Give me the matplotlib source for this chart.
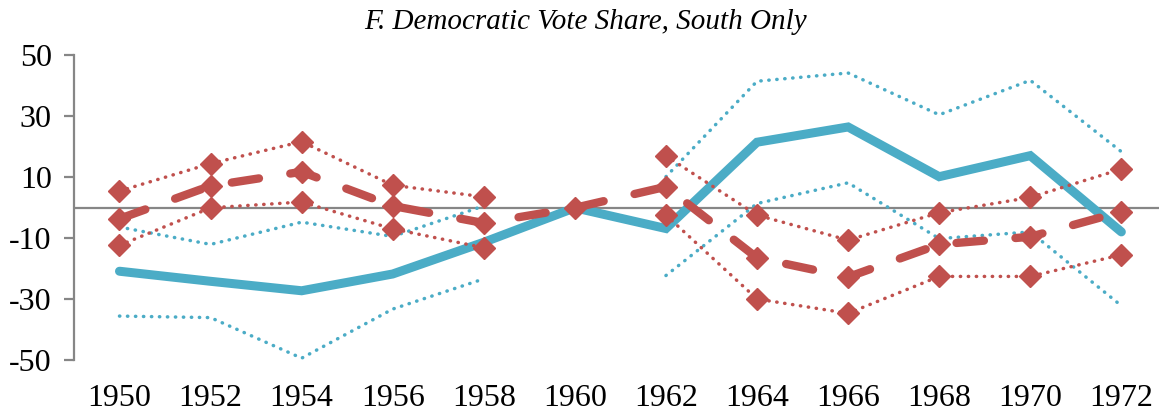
import matplotlib
matplotlib.use("Agg")
import matplotlib.pyplot as plt
import numpy as np

plt.rcParams['font.family'] = ['Liberation Serif', 'DejaVu Serif']

nan = np.nan
years = [1950, 1952, 1954, 1956, 1958, 1960, 1962, 1964, 1966, 1968, 1970, 1972]

# Blue series: estimate and confidence bounds
blue_est = [-20.8, -24.1, -27.2, -21.7, -11.3, 0.0, -6.8, 21.5, 26.5, 10.2, 17.1, -7.9]
blue_hi = [-6.3, -12.0, -4.7, -9.4, 0.6, nan, 10.2, 41.5, 44.2, 30.5, 41.8, 18.4]
blue_lo = [-35.5, -36.0, -49.3, -33.2, -23.3, nan, -22.2, 1.4, 8.2, -10.1, -7.9, -32.1]

# Red series: estimate and confidence bounds
red_est = [-3.6, 7.2, 11.8, 0.6, -5.0, 0.0, 6.9, -16.4, -22.7, -12.0, -9.5, -1.3]
red_hi = [5.5, 14.5, 21.7, 7.4, 3.6, nan, 17.0, -2.4, -10.6, -1.6, 3.4, 12.7]
red_lo = [-12.3, 0.0, 1.9, -6.9, -13.1, nan, -2.4, -29.9, -34.6, -22.5, -22.5, -15.4]

yticks = [50, 30, 10, -10, -30, -50]
title = "F. Democratic Vote Share, South Only"

blue = '#4BACC6'
red = '#C0504D'
grey = '#868686'

fig = plt.figure(figsize=(11.59, 4.13), dpi=100)
ax = fig.add_axes([0.0638, 0.1276, 0.943, 0.7385])

ax.axhline(0, color=grey, lw=1.6, zorder=1)

# blue lines
for vals in (blue_hi, blue_lo):
    ax.plot(years, vals, color=blue, lw=2.5, dashes=(0.1, 2.2),
            dash_capstyle='round', zorder=2)
ax.plot(years, blue_est, color=blue, lw=6.5, solid_capstyle='round',
        solid_joinstyle='miter', zorder=3)

# red lines with diamonds
for vals in (red_hi, red_lo):
    ax.plot(years, vals, color=red, lw=2.5, dashes=(0.1, 2.2),
            dash_capstyle='round', marker='D', ms=11.5, mec=red, mfc=red,
            zorder=4)
ax.plot(years, red_est, color=red, lw=6, dashes=(3.3, 3.8),
        dash_capstyle='round', marker='D', ms=11.5, mec=red, mfc=red, zorder=5)

ax.set_xlim(1949, 1973)
ax.set_ylim(-50, 50)
ax.set_xticks(years)
ax.set_xticklabels([str(y) for y in years])
ax.set_yticks(yticks)
ax.set_yticklabels([str(v) for v in yticks])

for s in ('top', 'right', 'bottom'):
    ax.spines[s].set_visible(False)
ax.spines['left'].set_color(grey)
ax.spines['left'].set_linewidth(1.6)

ax.tick_params(axis='x', length=0, pad=17, labelsize=23)
ax.tick_params(axis='y', direction='out', length=7, width=1.6, color=grey,
               pad=9, labelsize=23)

fig.text(0.505, 0.947, title, ha='center', va='center', fontsize=21,
         style='italic')

fig.savefig('out.png', dpi=100)
